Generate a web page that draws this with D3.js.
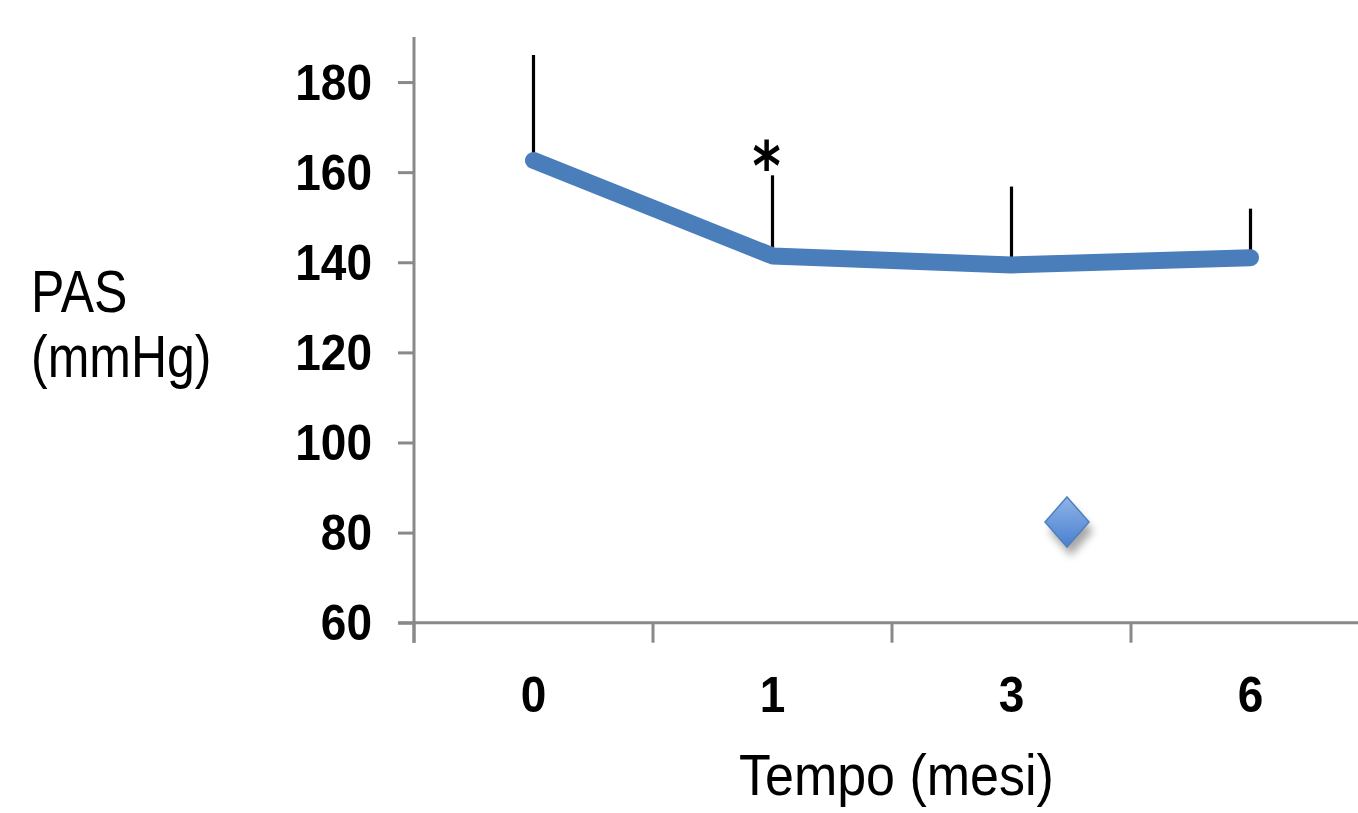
<!DOCTYPE html>
<html>
<head>
<meta charset="utf-8">
<script src="https://cdn.jsdelivr.net/npm/d3@7"></script>
<style>
  html, body { margin: 0; padding: 0; background: #ffffff; overflow: hidden; }
  svg { display: block; }
</style>
</head>
<body>
<div id="chart"></div>
<script>
// ---- data ----
const categories = ["0", "1", "3", "6"];
const meanPAS = [162.6, 141.4, 139.4, 141.0];
const sdPAS = [23.4, 17.9, 17.4, 10.9];
const significance = ["", "*", "", ""];
const yTicks = [60, 80, 100, 120, 140, 160, 180];
const yLabelLines = ["PAS", "(mmHg)"];
const xTitle = "Tempo (mesi)";

// ---- layout ----
const W = 1358, H = 813;
const axisColor = "#898989";
const lineColor = "#4a7ebb";
const font = "'Liberation Sans', Arial, Helvetica, sans-serif";

const svg = d3.select("#chart").append("svg")
  .attr("width", W).attr("height", H);

const defs = svg.append("defs");
const grad = defs.append("linearGradient").attr("id", "dg")
  .attr("x1", 0).attr("y1", 0).attr("x2", 0).attr("y2", 1);
grad.append("stop").attr("offset", "0%").attr("stop-color", "#8fb4e8");
grad.append("stop").attr("offset", "100%").attr("stop-color", "#4a7fd0");
const flt = defs.append("filter").attr("id", "sh")
  .attr("x", "-50%").attr("y", "-50%").attr("width", "200%").attr("height", "200%");
flt.append("feGaussianBlur").attr("stdDeviation", 4);

const x = d3.scaleBand().domain(categories).range([414, 1370]).padding(0);
const y = d3.scaleLinear().domain([60, 190]).range([622.7, 37]);

// y axis
const yAxis = svg.append("g").attr("transform", `translate(${x.range()[0]},0)`)
  .call(d3.axisLeft(y).tickValues(yTicks).tickSize(16).tickSizeOuter(0).tickFormat(d3.format("d")));
yAxis.select(".domain").remove();
yAxis.selectAll(".tick line").attr("stroke", axisColor).attr("stroke-width", 3);
yAxis.selectAll(".tick text")
  .attr("x", null).attr("dy", null).attr("y", null)
  .attr("transform", "translate(-42,17) scale(1,1.1)")
  .attr("font-family", font).attr("font-size", 46).attr("font-weight", "bold")
  .attr("fill", "#000").attr("text-anchor", "end");
svg.append("line")
  .attr("x1", x.range()[0]).attr("x2", x.range()[0])
  .attr("y1", y(190)).attr("y2", y(60) + 20)
  .attr("stroke", axisColor).attr("stroke-width", 3);

// x axis
const xAxis = svg.append("g").attr("transform", `translate(0,${y(60)})`)
  .call(d3.axisBottom(x).tickSize(0).tickSizeOuter(0));
xAxis.select(".domain").remove();
xAxis.selectAll(".tick text")
  .attr("y", null).attr("dy", null)
  .attr("transform", "translate(0,89) scale(1,1.1)")
  .attr("font-family", font).attr("font-size", 46).attr("font-weight", "bold")
  .attr("fill", "#000");
svg.append("line")
  .attr("x1", x.range()[0] - 16).attr("x2", W)
  .attr("y1", y(60)).attr("y2", y(60))
  .attr("stroke", axisColor).attr("stroke-width", 3);
const boundaries = categories.map(c => x(c));
svg.append("g").selectAll("line").data(boundaries).join("line")
  .attr("x1", d => d).attr("x2", d => d)
  .attr("y1", y(60)).attr("y2", y(60) + 20)
  .attr("stroke", axisColor).attr("stroke-width", 3);

// error bars (upper only)
const cx = c => x(c) + x.bandwidth() / 2;
svg.append("g").selectAll("line").data(categories).join("line")
  .attr("x1", c => cx(c)).attr("x2", c => cx(c))
  .attr("y1", (c, i) => y(meanPAS[i]))
  .attr("y2", (c, i) => y(meanPAS[i] + sdPAS[i]))
  .attr("stroke", "#000").attr("stroke-width", 3.2);

// mean line
const lineGen = d3.line().x(d => cx(d.c)).y(d => y(d.v));
svg.append("path")
  .datum(categories.map((c, i) => ({ c, v: meanPAS[i] })))
  .attr("d", lineGen)
  .attr("fill", "none").attr("stroke", lineColor)
  .attr("stroke-width", 17).attr("stroke-linecap", "round").attr("stroke-linejoin", "round");

// significance marks
svg.append("g").selectAll("text").data(categories.filter((c, i) => significance[i]))
  .join("text")
  .attr("transform", c => {
    const i = categories.indexOf(c);
    return `translate(${cx(c) - 6},${y(meanPAS[i] + sdPAS[i]) + 15}) scale(1,1.25)`;
  })
  .attr("text-anchor", "middle")
  .attr("font-family", "'DejaVu Sans', Verdana, sans-serif").attr("font-size", 54)
  .attr("font-weight", "bold")
  .attr("fill", "#000")
  .text(c => significance[categories.indexOf(c)]);

// legend marker (diamond)
const lg = svg.append("g").attr("transform", "translate(1067,522)");
const diamond = "M0,-25 L22,0 L0,25 L-22,0 Z";
lg.append("path").attr("d", diamond).attr("transform", "translate(4,9)")
  .attr("fill", "#000").attr("opacity", 0.35).attr("filter", "url(#sh)");
lg.append("path").attr("d", diamond)
  .attr("fill", "url(#dg)").attr("stroke", "#4f81bd").attr("stroke-width", 1.5);

// axis titles
const yt = svg.append("g");
yLabelLines.forEach((t, i) => {
  yt.append("text")
    .attr("transform", `translate(31,${312 + i * 65}) scale(1,1.18)`)
    .attr("font-family", font).attr("font-size", 50).attr("fill", "#000")
    .text(t);
});
svg.append("text")
  .attr("transform", `translate(739,795) scale(1,1.12)`)
  .attr("font-family", font).attr("font-size", 52).attr("fill", "#000")
  .text(xTitle);
</script>
</body>
</html>
